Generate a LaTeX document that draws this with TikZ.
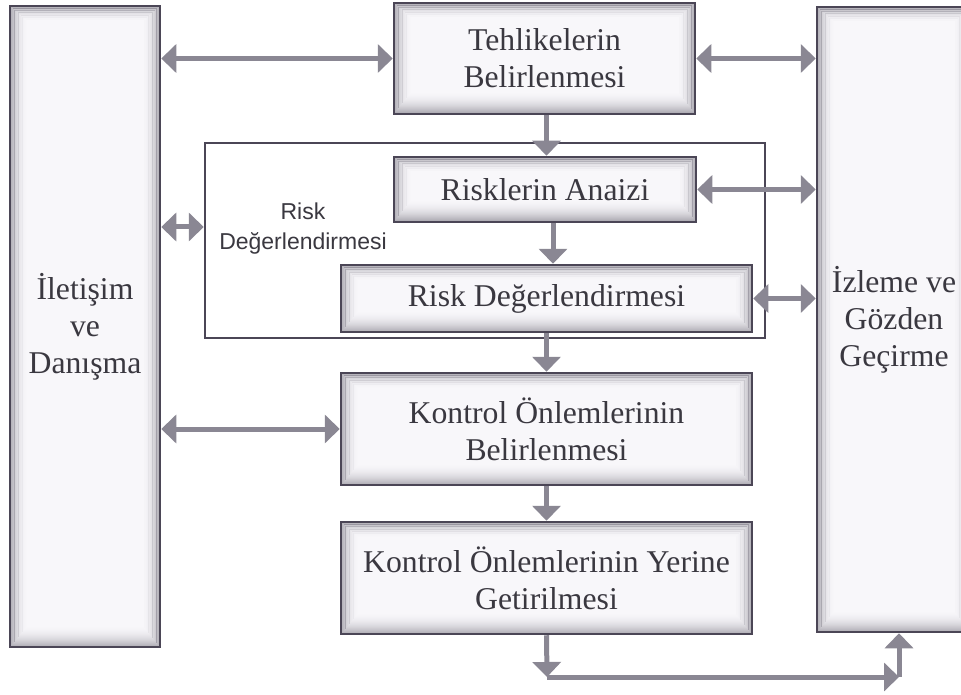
\documentclass[tikz,border=0pt]{standalone}
\usepackage{fontspec}
\setmainfont{Liberation Serif}
\setsansfont{Liberation Sans}
\usepackage{tikz}
\usetikzlibrary{arrows.meta, calc}
\definecolor{kenar}{HTML}{4B4656}
\definecolor{okrenk}{HTML}{8A8793}
\definecolor{zemin}{HTML}{F8F7FA}
\definecolor{yazi}{HTML}{3A3840}

\tikzset{
  kutu/.style={draw=kenar, line width=2.5pt, fill=zemin, text=yazi, align=center, inner sep=0pt,
    font=\fontsize{31.7}{37}\selectfont,
    path picture={
      \foreach \i [evaluate=\i as \saydam using {0.45*(1-\i/22)^2}] in {1,...,21}
        \draw[kenar, line width=1pt, opacity=\saydam]
          ($(path picture bounding box.south west)+(\i*0.8pt,\i*1pt)$) rectangle
          ($(path picture bounding box.north east)-(\i*0.8pt,\i*0.7pt)$);
    }},
  ok/.style={draw=okrenk, line width=5pt}
}

\begin{document}
\begin{tikzpicture}[x=1pt, y=-1pt, >={Triangle[length=15pt,width=28pt]}]
\useasboundingbox (0,0) rectangle (961,695);

\node[draw=kenar, line width=2.5pt, minimum width=560pt, minimum height=195pt] (cerceve) at (485,240.5) {};
\node[text=yazi, align=center, font=\sffamily\fontsize{23}{30}\selectfont] (etiket) at (303,229) {Risk\\Değerlendirmesi};

\node[kutu, minimum width=150pt, minimum height=641pt] (iletisim) at (85,326.5) {İletişim\\ve\\Danışma};
\node[kutu, minimum width=154pt, minimum height=625pt] (izleme) at (894,319.5) {İzleme ve\\Gözden\\Geçirme};
\node[kutu, minimum width=301pt, minimum height=111pt] (tehlike) at (544.5,58.5) {Tehlikelerin\\Belirlenmesi};
\node[kutu, minimum width=302pt, minimum height=65pt] (analiz) at (545,189.5) {Risklerin Anaizi};
\node[kutu, minimum width=411pt, minimum height=67pt] (riskdeg) at (546.5,298.5) {Risk Değerlendirmesi};
\node[kutu, minimum width=411pt, minimum height=112pt] (kontrol) at (546.5,429) {Kontrol Önlemlerinin\\Belirlenmesi};
\node[kutu, minimum width=411pt, minimum height=112pt] (yerine) at (546.5,578) {Kontrol Önlemlerinin Yerine\\Getirilmesi};

\coordinate (dip) at (547,677);
\coordinate (kose) at (899,677);

\draw[ok, <->] (tehlike.west -| iletisim.east) -- (tehlike.west);
\draw[ok, <->] (tehlike.east) -- (tehlike.east -| izleme.west);
\draw[ok, ->] ([xshift=2pt]tehlike.south) -- ([xshift=2pt]tehlike.south |- analiz.north);
\draw[ok, <->] ([yshift=13.5pt]cerceve.west -| iletisim.east) -- ([yshift=13.5pt]cerceve.west);
\draw[ok, <->] (analiz.east) -- (analiz.east -| izleme.west);
\draw[ok, ->] ([xshift=8pt]analiz.south) -- ([xshift=8pt]analiz.south |- riskdeg.north);
\draw[ok, <->] (riskdeg.east) -- (riskdeg.east -| izleme.west);
\draw[ok, ->] (riskdeg.south) -- (kontrol.north);
\draw[ok, <->] (kontrol.west -| iletisim.east) -- (kontrol.west);
\draw[ok, ->] (kontrol.south) -- (yerine.north);
\draw[ok, ->] (yerine.south) -- (dip);
\draw[ok, ->] (dip) -- (kose);
\draw[ok, ->] (kose) -- (kose |- izleme.south);
\end{tikzpicture}
\end{document}
